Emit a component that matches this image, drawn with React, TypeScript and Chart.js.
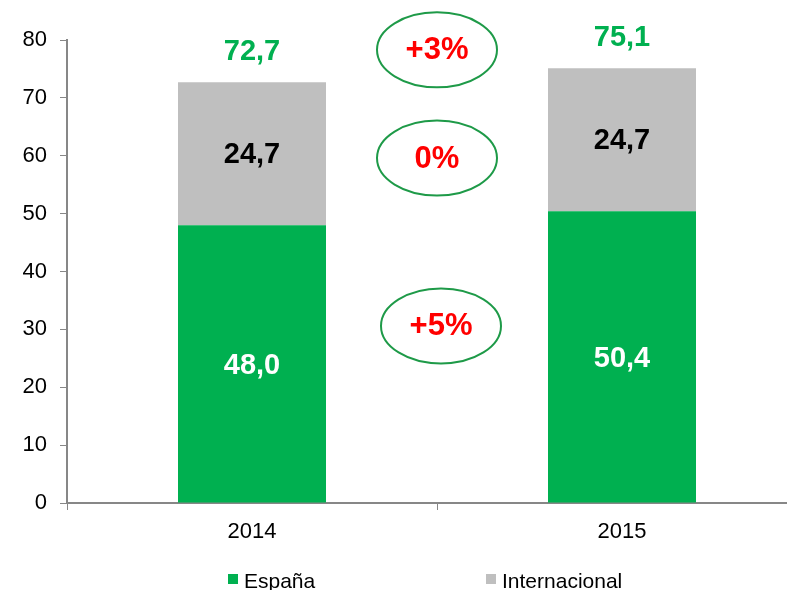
import React, { useEffect, useRef } from "react";
import { Chart, registerables } from "chart.js";

Chart.register(...registerables);

const categories = ["2014", "2015"];
const espana = [48.0, 50.4];
const internacional = [24.7, 24.7];
const totals = [72.7, 75.1];
const changeLabels = ["+3%", "0%", "+5%"];
const changeLevels = [78.3, 59.6, 30.6];
const legendLabels = ["España", "Internacional"];

const GREEN = "#00B050";
const GRAY = "#BFBFBF";
const AXIS = "#878787";
const FONT = "'Liberation Sans', Arial, sans-serif";

const fmt = (v: number) => v.toFixed(1).replace(".", ",");

const overlayPlugin = {
  id: "overlay",
  afterDatasetsDraw(chart: any) {
    const ctx = chart.ctx;
    const x = chart.scales.x;
    const y = chart.scales.y;
    const m0 = chart.getDatasetMeta(0);
    const m1 = chart.getDatasetMeta(1);
    ctx.save();
    ctx.textAlign = "center";
    ctx.textBaseline = "middle";
    ctx.font = `bold 29px ${FONT}`;
    m0.data.forEach((el: any, i: number) => {
      ctx.fillStyle = "#FFFFFF";
      ctx.fillText(fmt(espana[i]), el.x, (el.y + el.base) / 2 + 2);
    });
    m1.data.forEach((el: any, i: number) => {
      ctx.fillStyle = "#000000";
      ctx.fillText(fmt(internacional[i]), el.x, (el.y + el.base) / 2 + 1);
      ctx.fillStyle = GREEN;
      ctx.fillText(fmt(totals[i]), el.x, el.y - 30);
    });
    // ellipses with change
    const cx = x.getPixelForValue(0.5);
    changeLabels.forEach((lab, i) => {
      const cy = y.getPixelForValue(changeLevels[i]);
      const dx = i === 2 ? 4 : 0;
      ctx.beginPath();
      ctx.ellipse(cx + dx, cy, 60, 37.5, 0, 0, Math.PI * 2);
      ctx.strokeStyle = "#1E9A48";
      ctx.lineWidth = 2;
      ctx.stroke();
      ctx.fillStyle = "#FF0000";
      ctx.font = `bold 31px ${FONT}`;
      ctx.fillText(lab, cx + dx, cy + 1);
    });
    // legend
    ctx.textAlign = "left";
    ctx.textBaseline = "alphabetic";
    ctx.font = `21px ${FONT}`;
    const lx = [228, 486];
    const colors = [GREEN, GRAY];
    legendLabels.forEach((lab, i) => {
      ctx.fillStyle = colors[i];
      ctx.fillRect(lx[i], 574, 10, 10);
      ctx.fillStyle = "#000000";
      ctx.fillText(lab, lx[i] + 16, 588);
    });
    ctx.restore();
  },
};

export default function App() {
  const ref = useRef<HTMLCanvasElement | null>(null);
  useEffect(() => {
    if (!ref.current) return;
    const chart = new Chart(ref.current, {
      type: "bar",
      data: {
        labels: categories,
        datasets: [
          { label: legendLabels[0], data: espana, backgroundColor: GREEN, barPercentage: 0.4, categoryPercentage: 1 },
          { label: legendLabels[1], data: internacional, backgroundColor: GRAY, barPercentage: 0.4, categoryPercentage: 1 },
        ],
      },
      options: {
        responsive: false,
        animation: false,
        layout: { padding: { top: 40, right: 23, bottom: 0, left: 0 } },
        plugins: { legend: { display: false }, tooltip: { enabled: false } },
        scales: {
          x: {
            stacked: true,
            grid: { display: true, offset: true, drawOnChartArea: false, drawTicks: true, tickLength: 7, color: AXIS, lineWidth: 1 },
            border: { display: true, color: AXIS, width: 2 },
            ticks: { color: "#000", font: { family: FONT, size: 22 }, padding: 9 },
            afterFit: (s: any) => { s.height = 87; },
          },
          y: {
            stacked: true,
            min: 0,
            max: 80,
            grid: { display: true, drawOnChartArea: false, drawTicks: true, tickLength: 7, color: AXIS, lineWidth: 1 },
            border: { display: true, color: AXIS, width: 2 },
            ticks: { stepSize: 10, color: "#000", font: { family: FONT, size: 22 }, padding: 13 },
            afterFit: (s: any) => { s.width = 67; },
          },
        },
      },
      plugins: [overlayPlugin],
    });
    return () => chart.destroy();
  }, []);
  return (
    <div style={{ position: "absolute", left: 0, top: 0, width: 787, height: 590, overflow: "hidden", background: "#fff" }}>
      <canvas ref={ref} width={830} height={590} style={{ display: "block", width: 830, height: 590 }} />
    </div>
  );
}
